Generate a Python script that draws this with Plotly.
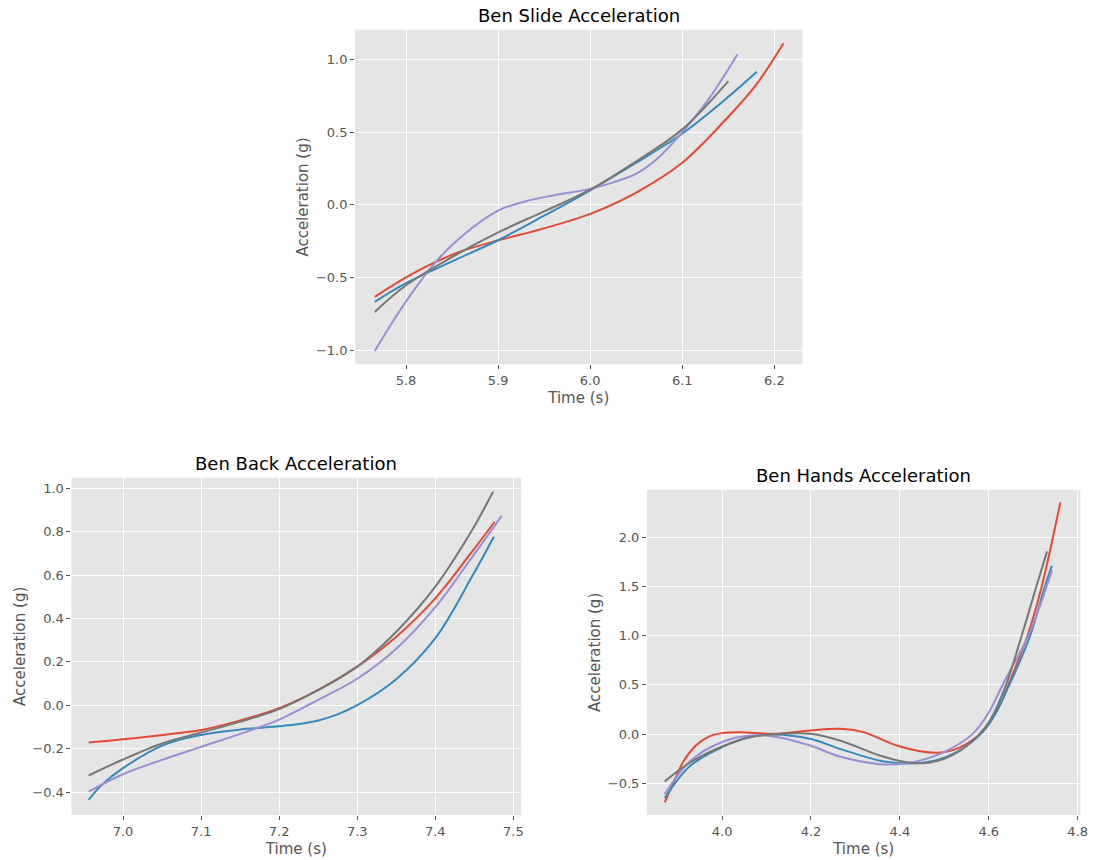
import plotly.graph_objects as go

# ---------------- data ----------------
# Ben Slide Acceleration
slide_red_t = [5.766, 5.8, 5.83, 5.86, 5.9, 5.95, 6.0, 6.05, 6.1, 6.15, 6.18, 6.21]
slide_red_a = [-0.634, -0.50, -0.40, -0.32, -0.245, -0.162, -0.062, 0.085, 0.29, 0.607, 0.825, 1.113]
slide_blue_t = [5.766, 5.8, 5.85, 5.9, 5.95, 6.0, 6.05, 6.1, 6.14, 6.181]
slide_blue_a = [-0.669, -0.54, -0.39, -0.244, -0.075, 0.10, 0.29, 0.49, 0.69, 0.917]
slide_purple_t = [5.766, 5.785, 5.805, 5.83, 5.86, 5.9, 5.93, 5.96, 6.0, 6.025, 6.05, 6.075, 6.1, 6.13, 6.16]
slide_purple_a = [-1.007, -0.81, -0.62, -0.41, -0.22, -0.04, 0.025, 0.065, 0.11, 0.155, 0.215, 0.33, 0.50, 0.74, 1.037]
slide_gray_t = [5.766, 5.8, 5.85, 5.9, 5.95, 6.0, 6.05, 6.1, 6.15]
slide_gray_a = [-0.738, -0.554, -0.36, -0.19, -0.045, 0.105, 0.30, 0.52, 0.853]

# Ben Back Acceleration
back_red_t = [6.956, 7.0, 7.051, 7.1, 7.148, 7.2, 7.249, 7.3, 7.35, 7.4, 7.447, 7.476]
back_red_a = [-0.172, -0.157, -0.137, -0.114, -0.072, -0.014, 0.068, 0.178, 0.316, 0.493, 0.708, 0.846]
back_blue_t = [6.956, 6.972, 7.0, 7.051, 7.1, 7.15, 7.2, 7.225, 7.25, 7.275, 7.3, 7.35, 7.4, 7.447, 7.475]
back_blue_a = [-0.436, -0.37, -0.29, -0.185, -0.137, -0.112, -0.097, -0.087, -0.070, -0.042, 0.0, 0.12, 0.309, 0.593, 0.777]
back_purple_t = [6.956, 7.0, 7.05, 7.1, 7.15, 7.2, 7.25, 7.3, 7.35, 7.4, 7.447, 7.485]
back_purple_a = [-0.398, -0.318, -0.252, -0.192, -0.132, -0.066, 0.025, 0.122, 0.260, 0.452, 0.682, 0.873]
back_gray_t = [6.956, 7.0, 7.051, 7.1, 7.148, 7.2, 7.249, 7.3, 7.35, 7.4, 7.447, 7.474]
back_gray_a = [-0.324, -0.250, -0.175, -0.126, -0.078, -0.018, 0.068, 0.178, 0.339, 0.547, 0.807, 0.984]

# Ben Hands Acceleration
hands_red_t = [3.871, 3.89, 3.914, 3.94, 3.97, 4.0, 4.04, 4.116, 4.198, 4.265, 4.318, 4.4, 4.482, 4.527, 4.56, 4.585, 4.62, 4.644, 4.687, 4.719, 4.761]
hands_red_a = [-0.694, -0.50, -0.27, -0.12, -0.025, 0.01, 0.02, 0.003, 0.037, 0.054, 0.02, -0.126, -0.19, -0.15, -0.07, 0.02, 0.25, 0.5, 1.0, 1.5, 2.357]
hands_blue_t = [3.871, 3.929, 4.0, 4.064, 4.116, 4.198, 4.265, 4.355, 4.4, 4.452, 4.5, 4.55, 4.6, 4.646, 4.693, 4.726, 4.742]
hands_blue_a = [-0.65, -0.32, -0.133, -0.03, -0.003, -0.048, -0.15, -0.27, -0.295, -0.29, -0.24, -0.12, 0.1, 0.5, 1.0, 1.5, 1.711]
hands_purple_t = [3.871, 3.929, 4.0, 4.064, 4.116, 4.198, 4.265, 4.355, 4.415, 4.452, 4.505, 4.563, 4.6, 4.631, 4.689, 4.73, 4.742]
hands_purple_a = [-0.61, -0.27, -0.08, -0.014, -0.024, -0.116, -0.228, -0.305, -0.296, -0.26, -0.17, 0.0, 0.22, 0.5, 1.0, 1.5, 1.667]
hands_gray_t = [3.871, 3.929, 4.0, 4.064, 4.116, 4.198, 4.265, 4.355, 4.415, 4.452, 4.5, 4.55, 4.6, 4.637, 4.674, 4.707, 4.731]
hands_gray_a = [-0.48, -0.286, -0.126, -0.03, -0.003, 0.003, -0.065, -0.218, -0.286, -0.296, -0.25, -0.12, 0.12, 0.48, 1.0, 1.5, 1.857]

titles = ["Ben Slide Acceleration", "Ben Back Acceleration", "Ben Hands Acceleration"]
x_label = "Time (s)"
y_label = "Acceleration (g)"

slide_xticks = [5.8, 5.9, 6.0, 6.1, 6.2]
slide_yticks = [-1.0, -0.5, 0.0, 0.5, 1.0]
back_xticks = [7.0, 7.1, 7.2, 7.3, 7.4, 7.5]
back_yticks = [-0.4, -0.2, 0.0, 0.2, 0.4, 0.6, 0.8, 1.0]
hands_xticks = [4.0, 4.2, 4.4, 4.6, 4.8]
hands_yticks = [-0.5, 0.0, 0.5, 1.0, 1.5, 2.0]

# ---------------- styling ----------------
RED, BLUE, PURPLE, GRAY = "#E24A33", "#348ABD", "#988ED5", "#777777"
FONT = "DejaVu Sans"
W, H = 1099, 860

fig = go.Figure()

panels = [
    ("x", "y", [(slide_red_t, slide_red_a, RED), (slide_blue_t, slide_blue_a, BLUE),
                (slide_purple_t, slide_purple_a, PURPLE), (slide_gray_t, slide_gray_a, GRAY)]),
    ("x2", "y2", [(back_red_t, back_red_a, RED), (back_blue_t, back_blue_a, BLUE),
                  (back_purple_t, back_purple_a, PURPLE), (back_gray_t, back_gray_a, GRAY)]),
    ("x3", "y3", [(hands_red_t, hands_red_a, RED), (hands_blue_t, hands_blue_a, BLUE),
                  (hands_purple_t, hands_purple_a, PURPLE), (hands_gray_t, hands_gray_a, GRAY)]),
]
for xa, ya, series in panels:
    for t, a, c in series:
        fig.add_trace(go.Scatter(x=t, y=a, mode="lines", xaxis=xa, yaxis=ya,
                                 line=dict(color=c, width=2, shape="spline", smoothing=1.0),
                                 hoverinfo="skip", showlegend=False))

# pixel boxes (left, top, right, bottom)
boxes = {
    "1": (357.7, 29.7, 808.3, 364.3),
    "2": (72.0, 477.7, 525.0, 815.0),
    "3": (651.7, 489.7, 1088.3, 815.0),
}
ranges = {
    "1": ([5.7447, 6.2305], [-1.0985, 1.2067], slide_xticks, slide_yticks),
    "2": ([6.934, 7.510], [-0.506, 1.049], back_xticks, back_yticks),
    "3": ([3.831, 4.806], [-0.822, 2.484], hands_xticks, hands_yticks),
}

common = dict(showgrid=True, gridcolor="white", gridwidth=1.2, zeroline=False,
              showline=False, ticks="outside", ticklen=4, tickwidth=1, tickcolor="#555555",
              tickfont=dict(family=FONT, size=13, color="#555555"), tickformat=".1f")

layout = dict(width=W, height=H, margin=dict(l=0, r=0, t=0, b=0),
              paper_bgcolor="white", plot_bgcolor="#E5E5E5", showlegend=False,
              font=dict(family=FONT))
annotations = []
for i, key in enumerate(["1", "2", "3"]):
    l, t, r, b = boxes[key]
    xr, yr, xt, yt = ranges[key]
    sfx = "" if key == "1" else key
    layout["xaxis" + sfx] = dict(common, domain=[l / W, r / W], range=xr, tickvals=xt,
                                 anchor="y" + sfx,
                                 title=dict(text=x_label, standoff=5,
                                            font=dict(family=FONT, size=15, color="#555555")))
    layout["yaxis" + sfx] = dict(common, domain=[1 - b / H, 1 - t / H], range=yr, tickvals=yt,
                                 anchor="x" + sfx,
                                 title=dict(text=y_label, standoff=3,
                                            font=dict(family=FONT, size=15, color="#555555")))
    annotations.append(dict(text=titles[i], x=(l + r) / 2 / W, y=1 - (t - 1.5) / H,
                            xref="paper", yref="paper", xanchor="center", yanchor="bottom",
                            showarrow=False, font=dict(family=FONT, size=18, color="black")))
layout["annotations"] = annotations
fig.update_layout(**layout)

fig.write_html("out.html", config={"displayModeBar": False},
               post_script="document.body.style.margin='0px';")
